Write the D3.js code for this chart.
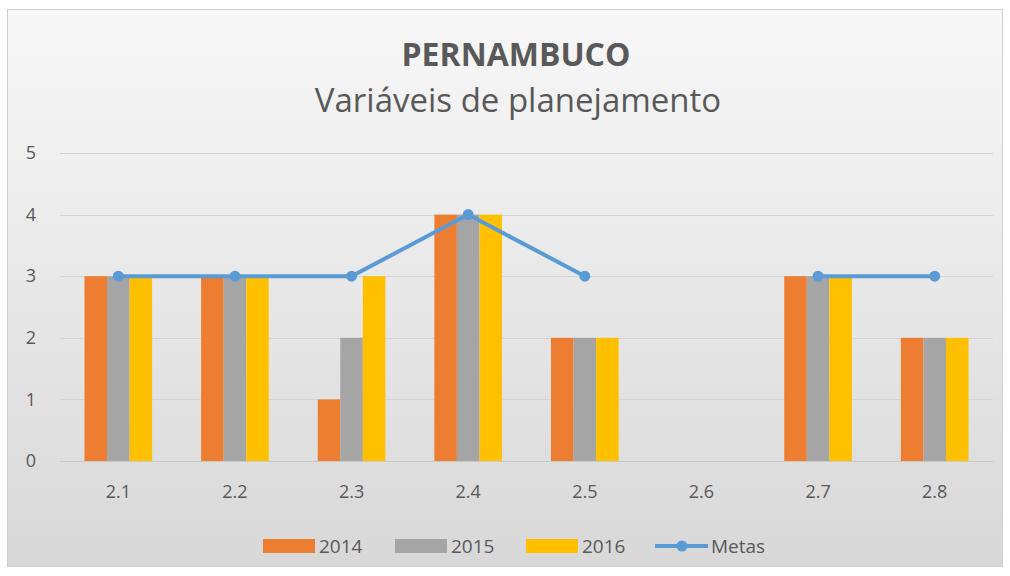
<html>
<head>
  <meta charset="utf-8">
  <style>
    body { margin: 0; background: #fff; }
    text { font-family: "Open Sans", sans-serif; fill: #595959; }
  </style>
  <script type="text/javascript" src="https://d3js.org/d3.v7.min.js"></script>
</head>
<body>
<div id="chart"></div>
<script>
  var categories = ["2.1", "2.2", "2.3", "2.4", "2.5", "2.6", "2.7", "2.8"];
  var v2014 = [3, 3, 1, 4, 2, 0, 3, 2];
  var v2015 = [3, 3, 2, 4, 2, 0, 3, 2];
  var v2016 = [3, 3, 3, 4, 2, 0, 3, 2];
  var metas = [3, 3, 3, 4, 3, null, 3, 3];
  var seriesNames = ["2014", "2015", "2016"];
  var yTicks = [0, 1, 2, 3, 4, 5];

  var colors = {"2014": "#ED7D31", "2015": "#A5A5A5", "2016": "#FFC000", "Metas": "#5B9BD5"};
  var barData = [v2014, v2015, v2016];

  var W = 1010, H = 576;
  var margin = {top: 153, right: 17, bottom: 115, left: 60};
  var width = W - margin.left - margin.right,
      height = H - margin.top - margin.bottom;

  var svg = d3.select("#chart").append("svg")
      .attr("width", W)
      .attr("height", H);

  var grad = svg.append("defs").append("linearGradient")
      .attr("id", "bg").attr("x1", 0).attr("y1", 0).attr("x2", 0).attr("y2", 1);
  grad.append("stop").attr("offset", "0%").attr("stop-color", "#f8f8f8");
  grad.append("stop").attr("offset", "100%").attr("stop-color", "#d8d8d8");

  svg.append("rect")
      .attr("x", 7.5).attr("y", 9.5)
      .attr("width", 995).attr("height", 557)
      .attr("fill", "url(#bg)")
      .attr("stroke", "#d0d0d0");

  svg.append("text")
      .attr("x", 516).attr("y", 66)
      .attr("text-anchor", "middle")
      .style("font-size", "32px")
      .style("font-weight", "bold")
      .text("PERNAMBUCO");

  svg.append("text")
      .attr("x", 518).attr("y", 112)
      .attr("text-anchor", "middle")
      .style("font-size", "33px")
      .text("Variáveis de planejamento");

  var g = svg.append("g")
      .attr("transform", "translate(" + margin.left + "," + margin.top + ")");

  var x = d3.scaleBand()
      .domain(categories)
      .range([0, width]);

  var x1 = d3.scaleBand()
      .domain(seriesNames)
      .range([0, x.bandwidth() * 0.58])
      .padding(0);

  var y = d3.scaleLinear()
      .domain([0, 5])
      .range([height, 0]);

  // gridlines
  g.append("g")
      .selectAll("line")
      .data(yTicks)
      .enter().append("line")
      .attr("x1", 0).attr("x2", width)
      .attr("y1", function(d) { return Math.round(y(d)) + 0.5; })
      .attr("y2", function(d) { return Math.round(y(d)) + 0.5; })
      .attr("stroke", function(d) { return d === 0 ? "#c8c8c8" : "#d4d4d4"; })
      .attr("stroke-width", 1);

  var yAxis = d3.axisLeft(y).tickValues(yTicks).tickFormat(d3.format("d")).tickSize(0).tickPadding(0);
  var ya = g.append("g").call(yAxis);
  ya.select(".domain").remove();
  ya.selectAll("text")
      .attr("x", -29)
      .attr("text-anchor", "middle")
      .style("font-size", "18px");

  var xAxis = d3.axisBottom(x).tickSize(0).tickPadding(0);
  var xa = g.append("g")
      .attr("transform", "translate(0," + height + ")")
      .call(xAxis);
  xa.select(".domain").remove();
  xa.selectAll("text")
      .attr("y", 31)
      .attr("dy", "0.32em")
      .style("font-size", "18px");

  // bars
  var groupOffset = (x.bandwidth() - x1.range()[1]) / 2;
  var groups = g.selectAll(".grp")
      .data(categories)
      .enter().append("g")
      .attr("class", "grp")
      .attr("transform", function(d) { return "translate(" + (x(d) + groupOffset) + ",0)"; });

  groups.selectAll("rect")
      .data(function(d, i) { return seriesNames.map(function(s, k) { return {s: s, v: barData[k][i]}; }); })
      .enter().append("rect")
      .attr("x", function(d) { return x1(d.s); })
      .attr("width", x1.bandwidth())
      .attr("y", function(d) { return y(d.v); })
      .attr("height", function(d) { return y(0) - y(d.v); })
      .attr("fill", function(d) { return colors[d.s]; });

  // metas line
  var line = d3.line()
      .defined(function(d) { return d != null; })
      .x(function(d, i) { return x(categories[i]) + x.bandwidth() / 2; })
      .y(function(d) { return y(d); });

  g.append("path")
      .datum(metas)
      .attr("d", line)
      .attr("fill", "none")
      .attr("stroke", colors.Metas)
      .attr("stroke-width", 4)
      .attr("stroke-linejoin", "round");

  g.selectAll(".mk")
      .data(metas.map(function(v, i) { return {c: categories[i], v: v}; }).filter(function(d) { return d.v != null; }))
      .enter().append("circle")
      .attr("cx", function(d) { return x(d.c) + x.bandwidth() / 2; })
      .attr("cy", function(d) { return y(d.v); })
      .attr("r", 5.5)
      .attr("fill", colors.Metas);

  // legend
  var legendItems = [
    {name: "2014", sx: 263, tx: 319},
    {name: "2015", sx: 395, tx: 451},
    {name: "2016", sx: 526, tx: 582},
    {name: "Metas", sx: 655, tx: 711}
  ];
  var lg = svg.append("g");
  legendItems.forEach(function(it) {
    if (it.name === "Metas") {
      lg.append("line")
          .attr("x1", it.sx).attr("x2", it.sx + 53)
          .attr("y1", 546).attr("y2", 546)
          .attr("stroke", colors.Metas).attr("stroke-width", 4);
      lg.append("circle")
          .attr("cx", it.sx + 27).attr("cy", 546).attr("r", 5.5)
          .attr("fill", colors.Metas);
    } else {
      lg.append("rect")
          .attr("x", it.sx).attr("y", 539)
          .attr("width", 52).attr("height", 14)
          .attr("fill", colors[it.name]);
    }
    lg.append("text")
        .attr("x", it.tx).attr("y", 546)
        .attr("dy", "0.35em")
        .style("font-size", "19px")
        .text(it.name);
  });
</script>
</body>
</html>
